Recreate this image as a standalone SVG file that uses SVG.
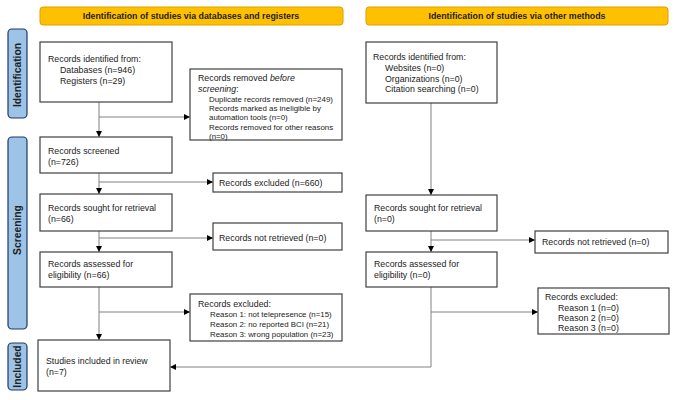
<svg xmlns="http://www.w3.org/2000/svg" width="684" height="400" viewBox="0 0 684 400">
<defs>
<marker id="ah" viewBox="0 0 6 6" refX="6" refY="3" markerWidth="6" markerHeight="6" orient="auto" markerUnits="userSpaceOnUse">
<path d="M0,0 L6,3 L0,6 z" fill="#000"/>
</marker>
<style>
.hdr{fill:#FFC000;stroke:#E0A000;stroke-width:1}
.band{fill:#9DC3E6;stroke:#1F3864;stroke-width:1.2}
.box{fill:#fff;stroke:#404040;stroke-width:1.2}
text{font-family:"Liberation Sans",Arial,sans-serif;font-size:8.8px;fill:#222}
.sm{font-size:7.9px}
.ht{font-weight:bold;font-size:8.8px;text-anchor:middle}
.bt{font-weight:bold;font-size:10.3px;text-anchor:middle}
.con{fill:none;stroke:#808080;stroke-width:1}
</style>
</defs>
<rect width="684" height="400" fill="#fff"/>
<g id="header-left"><rect class="hdr" x="40" y="7" width="303" height="18" rx="3"/><text class="ht" x="191" y="19">Identification of studies via databases and registers</text></g>
<g id="header-right"><rect class="hdr" x="366" y="7" width="302" height="18" rx="3"/><text class="ht" x="517" y="19">Identification of studies via other methods</text></g>
<g id="band-identification"><rect class="band" x="8" y="29" width="19" height="89" rx="4"/><text class="bt" transform="translate(21,75) rotate(-90)">Identification</text></g>
<g id="band-screening"><rect class="band" x="8" y="137" width="19" height="192" rx="4"/><text class="bt" transform="translate(21,230) rotate(-90)">Screening</text></g>
<g id="band-included"><rect class="band" x="8" y="343" width="19" height="47" rx="4"/><text class="bt" transform="translate(21,366.5) rotate(-90)">Included</text></g>
<g id="connectors">
<path class="con" d="M99,102 V137" marker-end="url(#ah)"/>
<path class="con" d="M99,117 H190" marker-end="url(#ah)"/>
<path class="con" d="M99,173 V194" marker-end="url(#ah)"/>
<path class="con" d="M99,182 H213" marker-end="url(#ah)"/>
<path class="con" d="M99,231 V252" marker-end="url(#ah)"/>
<path class="con" d="M99,238 H213" marker-end="url(#ah)"/>
<path class="con" d="M99,287 V340" marker-end="url(#ah)"/>
<path class="con" d="M99,312 H190" marker-end="url(#ah)"/>
<path class="con" d="M431,103 V195" marker-end="url(#ah)"/>
<path class="con" d="M431,231 V252" marker-end="url(#ah)"/>
<path class="con" d="M431,240 H535" marker-end="url(#ah)"/>
<path class="con" d="M431,287 V367 H170" marker-end="url(#ah)"/>
<path class="con" d="M431,312 H538" marker-end="url(#ah)"/>
</g>
<g id="n-identified-db"><rect class="box" x="40" y="42" width="132" height="60"/>
<text x="48" y="62">Records identified from:</text><text x="60" y="73">Databases (n=946)</text><text x="60" y="84">Registers (n=29)</text></g>
<g id="n-removed"><rect class="box" x="190" y="69" width="152" height="71"/>
<text x="198" y="81">Records removed <tspan font-style="italic">before</tspan></text>
<text x="198" y="92"><tspan font-style="italic">screening</tspan>:</text>
<text class="sm" x="209" y="102">Duplicate records removed (n=249)</text>
<text class="sm" x="209" y="111">Records marked as ineligible by</text>
<text class="sm" x="209" y="120">automation tools (n=0)</text>
<text class="sm" x="209" y="129.5">Records removed for other reasons</text>
<text class="sm" x="209" y="139">(n=0)</text></g>
<g id="n-screened"><rect class="box" x="40" y="137" width="132" height="36"/>
<text x="48" y="154">Records screened</text><text x="48" y="165">(n=726)</text></g>
<g id="n-excluded1"><rect class="box" x="213" y="173" width="129" height="19"/>
<text x="219" y="186">Records excluded (n=660)</text></g>
<g id="n-sought-db"><rect class="box" x="40" y="194" width="132" height="37"/>
<text x="48" y="211">Records sought for retrieval</text><text x="48" y="222">(n=66)</text></g>
<g id="n-notretrieved-db"><rect class="box" x="213" y="223" width="129" height="27"/>
<text x="219" y="241">Records not retrieved (n=0)</text></g>
<g id="n-assessed-db"><rect class="box" x="40" y="252" width="132" height="35"/>
<text x="48" y="267">Records assessed for</text><text x="48" y="278">eligibility (n=66)</text></g>
<g id="n-excluded-db"><rect class="box" x="190" y="294" width="152" height="47"/>
<text x="198" y="307">Records excluded:</text>
<text class="sm" x="210" y="317">Reason 1: not telepresence (n=15)</text>
<text class="sm" x="210" y="327">Reason 2: no reported BCI (n=21)</text>
<text class="sm" x="210" y="337">Reason 3: wrong population (n=23)</text></g>
<g id="n-included"><rect class="box" x="38" y="340" width="132" height="51"/>
<text x="46" y="364">Studies included in review</text><text x="46" y="375">(n=7)</text></g>
<g id="n-identified-other"><rect class="box" x="366" y="42" width="131" height="61"/>
<text x="373" y="60">Records identified from:</text><text x="385" y="71">Websites (n=0)</text><text x="385" y="82">Organizations (n=0)</text><text x="385" y="92">Citation searching (n=0)</text></g>
<g id="n-sought-other"><rect class="box" x="366" y="195" width="131" height="36"/>
<text x="374" y="211">Records sought for retrieval</text><text x="374" y="222">(n=0)</text></g>
<g id="n-notretrieved-other"><rect class="box" x="535" y="231" width="133" height="22"/>
<text x="542" y="245">Records not retrieved (n=0)</text></g>
<g id="n-assessed-other"><rect class="box" x="366" y="252" width="131" height="35"/>
<text x="374" y="267">Records assessed for</text><text x="374" y="278">eligibility (n=0)</text></g>
<g id="n-excluded-other"><rect class="box" x="538" y="288" width="131" height="46"/>
<text x="545" y="300">Records excluded:</text>
<text x="558" y="311">Reason 1 (n=0)</text>
<text x="558" y="321">Reason 2 (n=0)</text>
<text x="558" y="331">Reason 3 (n=0)</text></g>
</svg>
